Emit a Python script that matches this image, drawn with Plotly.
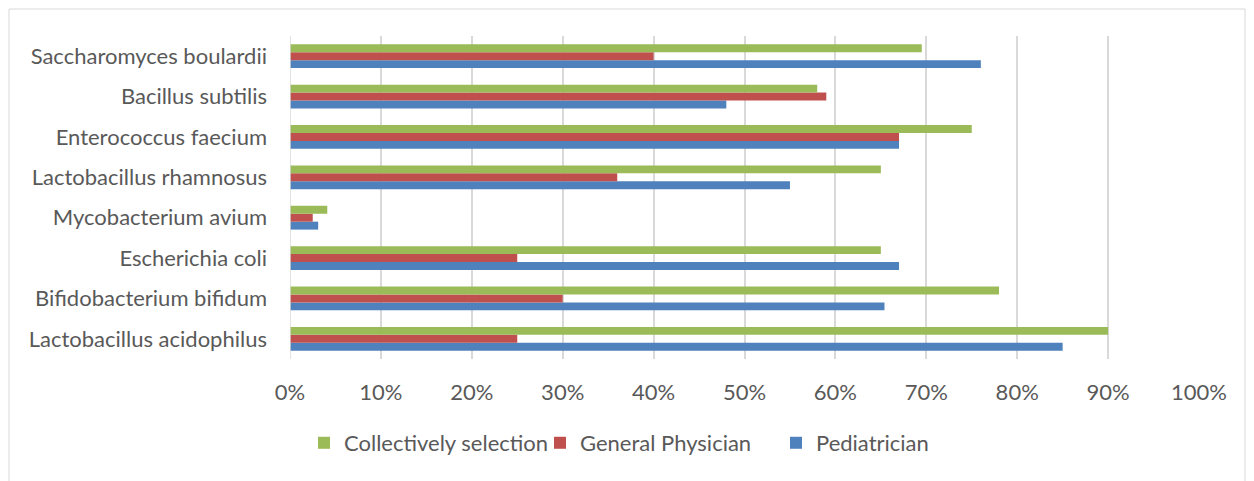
import plotly.graph_objects as go

categories = ["Lactobacillus acidophilus", "Bifidobacterium bifidum", "Escherichia coli",
              "Mycobacterium avium", "Lactobacillus rhamnosus", "Enterococcus faecium",
              "Bacillus subtilis", "Saccharomyces boulardii"]
pediatrician = [0.85, 0.654, 0.67, 0.031, 0.55, 0.67, 0.48, 0.76]
general_physician = [0.25, 0.30, 0.25, 0.025, 0.36, 0.67, 0.59, 0.40]
collectively = [0.90, 0.78, 0.65, 0.041, 0.65, 0.75, 0.58, 0.695]
tick_vals = [0, 0.1, 0.2, 0.3, 0.4, 0.5, 0.6, 0.7, 0.8, 0.9, 1.0]
tick_text = ["0%", "10%", "20%", "30%", "40%", "50%", "60%", "70%", "80%", "90%", "100%"]

fig = go.Figure()
fig.add_trace(go.Bar(y=categories, x=pediatrician, name="Pediatrician", orientation="h",
                     marker=dict(color="#4F81BD", line=dict(width=0))))
fig.add_trace(go.Bar(y=categories, x=general_physician, name="General Physician", orientation="h",
                     marker=dict(color="#C0504D", line=dict(width=0))))
fig.add_trace(go.Bar(y=categories, x=collectively, name="Collectively selection", orientation="h",
                     marker=dict(color="#9BBB59", line=dict(width=0))))

font_family = "Lato, 'Open Sans', sans-serif"
fig.update_layout(
    width=1254, height=481,
    margin=dict(l=290, r=55, t=36, b=122),
    barmode="group", bargap=0.41, bargroupgap=0,
    plot_bgcolor="white", paper_bgcolor="white",
    font=dict(family=font_family, size=22, color="#595959"),
    xaxis=dict(range=[0, 1.0], tickvals=tick_vals, ticktext=tick_text,
               showgrid=True, gridcolor="#D9D9D9", gridwidth=1.5, zeroline=False,
               showline=False, ticks="", ticklabelstandoff=18, fixedrange=True),
    yaxis=dict(showgrid=False, showline=False, ticks="", ticklabelstandoff=22,
               fixedrange=True),
    legend=dict(orientation="h", x=14/909, xanchor="left", y=-0.26, yanchor="middle",
                traceorder="reversed", font=dict(size=22, color="#595959"),
                itemwidth=30, entrywidth=191, entrywidthmode="pixels"),
    showlegend=True,
    shapes=[
        dict(type="line", xref="x", yref="paper", x0=0, x1=0, y0=0, y1=1,
             line=dict(color="#D9D9D9", width=1.5)),
        dict(type="rect", xref="paper", yref="paper",
             x0=-281/909, x1=(1245-290)/909, y0=-(490-359)/323, y1=(359-9)/323,
             line=dict(color="#D9D9D9", width=1), fillcolor="rgba(0,0,0,0)", layer="below"),
    ],
)

fig.write_html("out.html")
